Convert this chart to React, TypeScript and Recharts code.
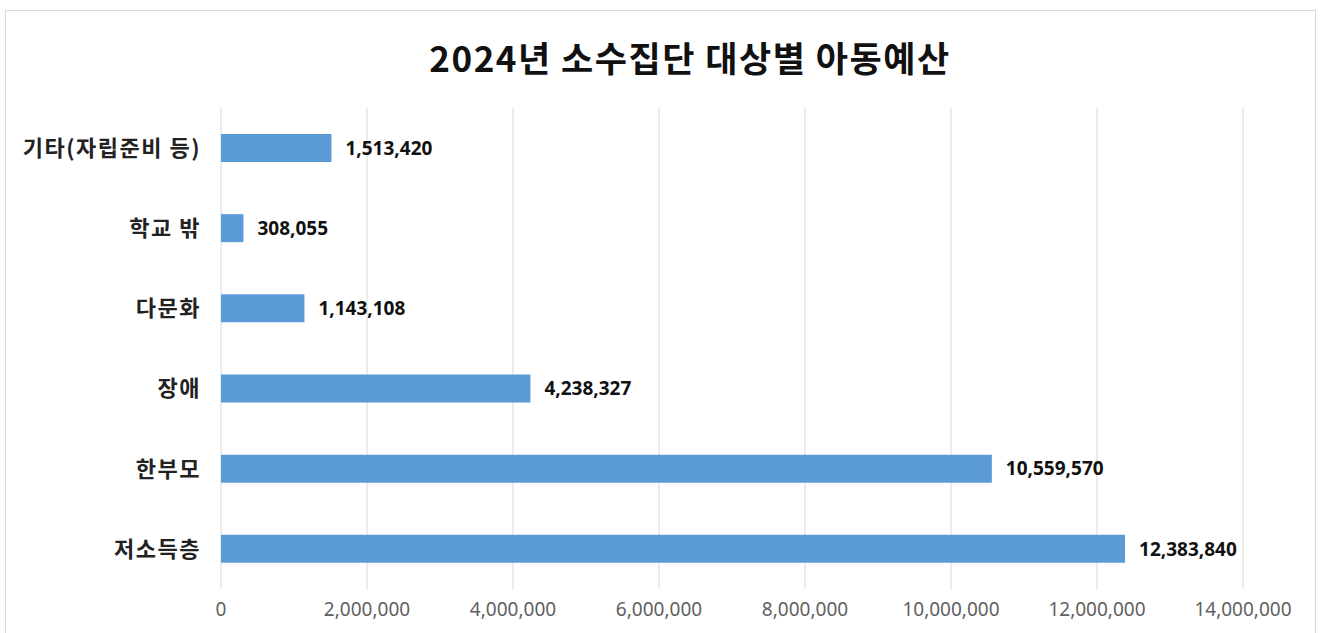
import React from 'react';
import { BarChart, Bar, XAxis, YAxis, CartesianGrid, LabelList } from 'recharts';

const categories = ['기타(자립준비 등)', '학교 밖', '다문화', '장애', '한부모', '저소득층'];
const budgets = [1513420, 308055, 1143108, 4238327, 10559570, 12383840];
const xTicks = [0, 2000000, 4000000, 6000000, 8000000, 10000000, 12000000, 14000000];

const data = categories.map((name, i) => ({ name, value: budgets[i] }));

const fmt = (v: number) => v.toLocaleString('en-US');

export default function App() {
  return (
    <div style={{ position: 'absolute', left: 0, top: 0, width: 1321, height: 633, background: '#fff', overflow: 'hidden' }}>
      {/* chart frame */}
      <div
        style={{
          position: 'absolute',
          left: 5,
          top: 10,
          width: 1311,
          height: 640,
          border: '1px solid #d9d9d9',
          boxSizing: 'border-box',
        }}
      />
      <div
        style={{
          position: 'absolute',
          left: 0,
          top: 34,
          width: 1380,
          textAlign: 'center',
          fontFamily: '"Noto Sans CJK KR", sans-serif',
          fontWeight: 700,
          fontSize: 35,
          letterSpacing: 1.5,
          lineHeight: '46px',
          color: '#111',
        }}
      >
        2024년 소수집단 대상별 아동예산
      </div>
      <div style={{ position: 'absolute', left: 0, top: 0 }}>
        <BarChart
          width={1321}
          height={633}
          data={data}
          layout="vertical"
          margin={{ top: 108, right: 78, bottom: 14, left: 0 }}
        >
          <CartesianGrid horizontal={false} vertical stroke="#d9d9d9" />
          <XAxis
            type="number"
            domain={[0, 14000000]}
            ticks={xTicks}
            tickFormatter={fmt}
            axisLine={false}
            tickLine={false}
            tickSize={0}
            tickMargin={14}
            height={30}
            interval={0}
            tick={{ fill: '#5f5f5f', fontSize: 19, fontFamily: '"Noto Sans", sans-serif' }}
          />
          <YAxis
            type="category"
            dataKey="name"
            width={221}
            axisLine={false}
            tickLine={false}
            tickSize={0}
            tickMargin={20}
            interval={0}
            tick={{ fill: '#222', fontSize: 22, fontWeight: 700, letterSpacing: 1.5, fontFamily: '"Noto Sans CJK KR", sans-serif' }}
          />
          <Bar dataKey="value" fill="#5b9bd5" barSize={28} isAnimationActive={false}>
            <LabelList
              dataKey="value"
              position="right"
              offset={14}
              formatter={(v: any) => fmt(Number(v))}
              style={{ fill: '#111', fontSize: 19, fontWeight: 700, fontFamily: '"Noto Sans", sans-serif' }}
            />
          </Bar>
        </BarChart>
      </div>
    </div>
  );
}
